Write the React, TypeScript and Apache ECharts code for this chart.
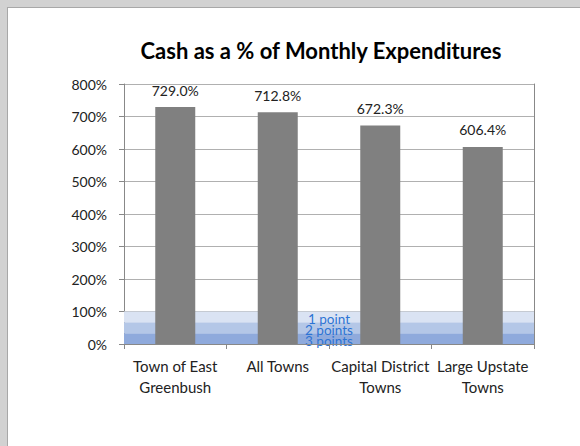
import React, { useEffect, useRef } from "react";
import * as echarts from "echarts";

const categories = ["Town of East\nGreenbush", "All Towns", "Capital District\nTowns", "Large Upstate\nTowns"];
const cashValues = [729.0, 712.8, 672.3, 606.4];
const bandNames = ["3 points", "2 points", "1 point"];
const bandValues = [33.33, 33.33, 33.34];
const bandColors = ["#8faadc", "#b4c7e7", "#dae3f3"];
const yTicks = { min: 0, max: 800, interval: 100 };

export default function App() {
  const ref = useRef<HTMLDivElement>(null);
  useEffect(() => {
    if (!ref.current) return;
    const chart = echarts.init(ref.current, null, { renderer: "svg" });
    const font = "Lato, 'Open Sans', sans-serif";
    const bandSeries = bandNames.map((name, i) => ({
      name,
      type: "bar",
      xAxisIndex: 1,
      yAxisIndex: 0,
      stack: "band",
      barWidth: "100%",
      z: 1,
      data: [bandValues[i]],
      itemStyle: { color: bandColors[i] },
      label: {
        show: true,
        position: "inside",
        formatter: name,
        color: "#2d74d4",
        fontSize: 13.5,
        fontFamily: font,
        offset: [0, 2],
      },
    }));
    chart.setOption({
      animation: false,
      textStyle: { fontFamily: font },
      title: {
        text: "Cash as a % of Monthly Expenditures",
        left: 308,
        textAlign: "center",
        top: 26,
        textStyle: { fontSize: 22, fontWeight: "bold", color: "#000", fontFamily: font },
      },
      grid: { left: 116, right: 46, top: 76, bottom: 102, containLabel: false },
      xAxis: [
        {
          type: "category",
          data: categories,
          axisLine: { show: true, lineStyle: { color: "#888" } },
          axisTick: { show: true, length: 5, lineStyle: { color: "#888" } },
          axisLabel: { color: "#222", fontSize: 15, lineHeight: 21, margin: 11, interval: 0, fontFamily: font },
          z: 5,
        },
        { type: "category", data: ["band"], show: false },
      ],
      yAxis: [
        {
          type: "value",
          min: yTicks.min,
          max: yTicks.max,
          interval: yTicks.interval,
          axisLine: { show: true, lineStyle: { color: "#888" } },
          axisTick: { show: true, length: 5, lineStyle: { color: "#888" } },
          axisLabel: { formatter: "{value}%", color: "#222", fontSize: 14, margin: 17, fontFamily: font },
          splitLine: { show: true, lineStyle: { color: "#b0b0b0" } },
        },
        {
          type: "value",
          position: "right",
          min: yTicks.min,
          max: yTicks.max,
          interval: yTicks.interval,
          axisLine: { show: true, lineStyle: { color: "#888" } },
          axisTick: { show: false },
          axisLabel: { show: false },
          splitLine: { show: false },
        },
      ],
      series: [
        ...bandSeries,
        {
          name: "Cash",
          type: "bar",
          xAxisIndex: 0,
          yAxisIndex: 0,
          barWidth: 40,
          z: 3,
          data: cashValues,
          itemStyle: { color: "#808080" },
          label: {
            show: true,
            position: "top",
            distance: 10,
            formatter: (p: any) => p.value.toFixed(1) + "%",
            color: "#222",
            fontSize: 14,
            fontFamily: font,
          },
        },
      ],
    });
    return () => chart.dispose();
  }, []);
  return (
    <div style={{ position: "fixed", left: 0, top: 0, width: 580, height: 446, background: "#d2d2d2" }}>
      <div
        style={{
          position: "absolute",
          left: 7,
          top: 7,
          borderLeft: "1px solid #a8a8a8",
          borderTop: "1px solid #a8a8a8",
          background: "#fff",
        }}
      >
        <div ref={ref} style={{ width: 572, height: 438 }} />
      </div>
    </div>
  );
}
